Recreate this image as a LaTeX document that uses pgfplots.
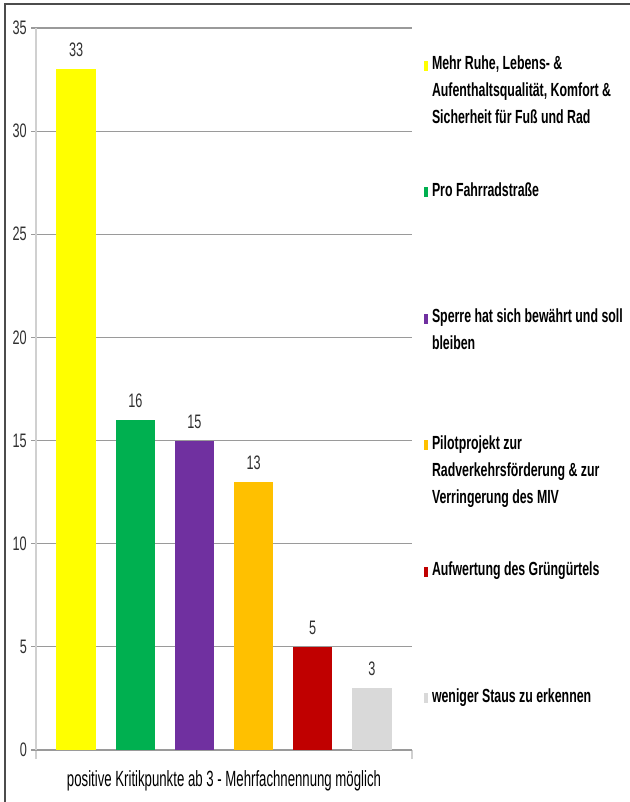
\documentclass[border=0pt]{standalone}
\usepackage{pgfplots}
\pgfplotsset{compat=1.18}
\usepackage{fontspec}
\setmainfont{Liberation Sans}
\newfontfamily\nf{Liberation Sans}[FakeStretch=0.65]
\newfontfamily\nfx{Liberation Sans}[FakeStretch=0.6]
\definecolor{cY}{HTML}{FFFF00}
\definecolor{cG}{HTML}{00B050}
\definecolor{cP}{HTML}{7030A0}
\definecolor{cO}{HTML}{FFC000}
\definecolor{cR}{HTML}{C00000}
\definecolor{cL}{HTML}{D9D9D9}
\definecolor{gridc}{HTML}{9A9A9A}
\definecolor{axc}{HTML}{D0D0D0}
\definecolor{txt}{HTML}{303030}
\newcommand\LE[2]{\parbox[t]{200pt}{\raggedright\rule{0pt}{14pt}#1\rule[-#2pt]{0pt}{#2pt}}}
\begin{document}
\begin{tikzpicture}[x=1pt,y=1pt]
\useasboundingbox (0,0) rectangle (629,802);
\draw[line width=2pt, color=black!70] (5,-5) -- (5,798) -- (640,798);
\begin{axis}[
  at={(36pt,52pt)}, anchor=south west,
  scale only axis, width=376pt, height=722pt,
  ymin=0, ymax=35, ytick={0,5,...,35},
  xmin=-0.68, xmax=5.68,
  xtick={-0.68,5.68}, xticklabels={},
  axis x line*=bottom, axis y line*=left,
  x axis line style={draw=gridc, line width=1.5pt},
  y axis line style={draw=axc, line width=2pt},
  tick align=outside, major tick length=5pt,
  ytick style={draw=gridc, line width=1.2pt},
  xtick style={draw=axc, line width=1.2pt, /pgfplots/major tick length=9pt},
  ymajorgrids, major grid style={draw=gridc, line width=1.2pt},
  /pgf/number format/assume math mode=true,
  yticklabel style={font=\nf\fontsize{19.5}{19.5}\selectfont, color=txt, inner sep=0pt, xshift=-4pt},
  ybar,
  nodes near coords,
  nodes near coords style={font=\nf\fontsize{19.5}{19.5}\selectfont, color=txt, anchor=south, inner sep=0pt, yshift=12pt},
  xlabel={positive Kritikpunkte ab 3 - Mehrfachnennung möglich},
  xlabel style={font=\nfx\fontsize{22}{22}\selectfont, color=black, at={(axis description cs:0.5,0)}, anchor=base, yshift=-37pt},
  legend style={at={(1,1)}, anchor=north west, xshift=12pt, yshift=-28pt,
    draw=none, fill=none, inner sep=0pt, outer sep=0pt, row sep=0pt, column sep=4pt,
    font=\nf\bfseries\fontsize{19}{27}\selectfont,
    nodes={inner sep=0pt, outer sep=0pt, text depth=}, cells={anchor=base west}},
  legend image code/.code={\fill[#1,draw=none] (0pt,-1pt) rectangle (4pt,9pt);},
  clip=false,
]
\addplot[fill=cY, draw=none, bar shift=0pt, bar width=0.67] coordinates {(0,33)};
\addlegendentry{\LE{Mehr Ruhe, Lebens- \&\\Aufenthaltsqualität, Komfort \&\\Sicherheit für Fuß und Rad}{58.4}}
\addplot[fill=cG, draw=none, bar shift=0pt, bar width=0.67] coordinates {(1,16)};
\addlegendentry{\LE{Pro Fahrradstraße}{112.4}}
\addplot[fill=cP, draw=none, bar shift=0pt, bar width=0.67] coordinates {(2,15)};
\addlegendentry{\LE{Sperre hat sich bewährt und soll\\bleiben}{85.4}}
\addplot[fill=cO, draw=none, bar shift=0pt, bar width=0.67] coordinates {(3,13)};
\addlegendentry{\LE{Pilotprojekt zur\\Radverkehrsförderung \& zur\\Verringerung des MIV}{58.4}}
\addplot[fill=cR, draw=none, bar shift=0pt, bar width=0.67] coordinates {(4,5)};
\addlegendentry{\LE{Aufwertung des Grüngürtels}{112.4}}
\addplot[fill=cL, draw=none, bar shift=0pt, bar width=0.67] coordinates {(5,3)};
\addlegendentry{\LE{weniger Staus zu erkennen}{0}}
\end{axis}
\end{tikzpicture}
\end{document}
